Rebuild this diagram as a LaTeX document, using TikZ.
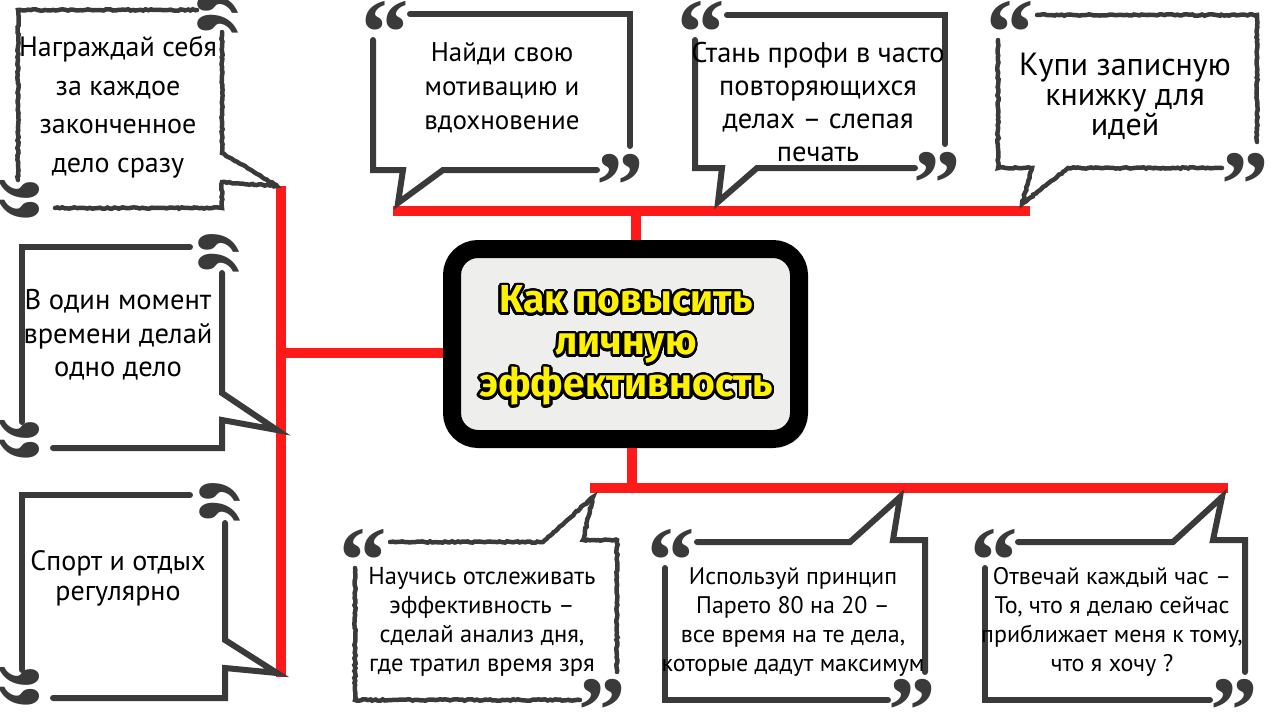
\documentclass[tikz,border=0pt]{standalone}
\usepackage{fontspec}
\setmainfont{PT Sans}
\newfontfamily\quotefont{Liberation Serif}
\newfontfamily\titlefont{Fira Sans}
\usepackage{contour}
\contourlength{2.4pt}
\contournumber{32}
\usetikzlibrary{decorations.pathmorphing,shadows}
\definecolor{bus}{HTML}{FF1A1A}
\definecolor{ink}{HTML}{3A3A3A}
\definecolor{boxfill}{HTML}{EEEEEC}
\definecolor{titley}{HTML}{FFF200}
\newcommand{\ttlline}[1]{\contour{black}{\textcolor{titley}{#1}}}
\newcommand{\sidemark}[1]{\scalebox{1}[1.5]{#1}}
\begin{document}
\begin{tikzpicture}[x=1pt,y=-1pt,
  bubble/.style={draw=ink, line width=6, line join=miter, line cap=round},
  grunge/.style={draw=ink, line width=4.5, line cap=round, decorate,
     decoration={random steps,segment length=2.5pt,amplitude=0.7pt}},
  busline/.style={draw=bus, line width=10},
  qmark/.style={font=\quotefont\bfseries\fontsize{95}{95}\selectfont, text=ink, inner sep=0},
  rmark/.style={font=\quotefont\bfseries\fontsize{90}{90}\selectfont, text=ink, inner sep=0, rotate=90, anchor=north},
  lbl/.style={align=center, inner sep=0, text=black},
  ttl/.style={align=center, inner sep=0, font=\titlefont\bfseries\fontsize{39}{42}\selectfont}]
\useasboundingbox (0,0) rectangle (1280,720);

% ---------- central node ----------
\node[draw=black, line width=18, fill=boxfill, rounded corners=26,
      minimum width=347, minimum height=190,
      drop shadow={shadow xshift=7pt, shadow yshift=-7pt, opacity=0.35}]
  (center) at (625.5,344) {};
\node[ttl] (title) at (626,347)
  {\ttlline{Как повысить}\\ \ttlline{личную}\\ \ttlline{эффективность}};

% ---------- buses ----------
\coordinate (tL) at (393,211); \coordinate (tR) at (1030,211); \coordinate (tJ) at (636,211);
\coordinate (bL) at (590,488); \coordinate (bR) at (1228,488); \coordinate (bJ) at (632,488);
\coordinate (lT) at (281,186); \coordinate (lB) at (281,677); \coordinate (lJ) at (276,353);
\draw[busline] (tL) -- (tR);
\draw[busline] (tJ |- center.north) -- (tJ);
\draw[busline] (bL) -- (bR);
\draw[busline] (bJ |- center.south) -- (bJ);
\draw[busline] (lT) -- (lB);
\draw[busline] (lJ) -- (center.west |- lJ);

% ---------- top bubbles ----------
% T1
\draw[bubble] (373,40) -- (373,170) -- (403,170) -- (398,203) -- (443,170) -- (597,170);
\draw[bubble] (410,14) -- (630,14) -- (630,146);
\node[qmark, anchor=north] (t1q1) at (385,1) {“};
\node[qmark, anchor=north] (t1q2) at (620,154) {”};
\node[lbl, font=\fontsize{27}{34}\selectfont] (t1) at (502,88)
  {Найди свою\\ мотивацию и\\ вдохновение};
% T2
\draw[bubble] (695,40) -- (695,168) -- (722,168) -- (718,202) -- (757,168) -- (915,168);
\draw[bubble] (727,15) -- (945,15) -- (945,144);
\node[qmark, anchor=north] (t2q1) at (701,1) {“};
\node[qmark, anchor=north] (t2q2) at (937,152) {”};
\node[lbl, font=\fontsize{28.5}{33}\selectfont] (t2) at (818,102)
  {Стань профи в часто\\ повторяющихся\\ делах – слепая\\ печать};
% T3
\draw[grunge] (998,40) -- (998,168) -- (1032,168) -- (1022,204) -- (1068,168) -- (1222,168);
\draw[grunge] (1037,15) -- (1257,15) -- (1257,142);
\node[qmark, anchor=north] (t3q1) at (1010,1) {“};
\node[qmark, anchor=north] (t3q2) at (1245,153) {”};
\node[lbl, font=\fontsize{32}{30}\selectfont] (t3) at (1125,96)
  {Купи записную\\ книжку для\\ идей};

% ---------- left bubbles ----------
% L1
\draw[grunge] (18,180) -- (18,10) -- (197,10);
\draw[grunge] (222,32) -- (222,153) -- (277,186) -- (222,182) -- (222,208) -- (55,208);
\node[rmark] (l1q1) at (198,14) {\sidemark{”}};
\node[rmark] (l1q2) at (-1,200) {\sidemark{“}};
\node[lbl, font=\fontsize{28}{38.5}\selectfont] (l1) at (118,107)
  {Награждай себя\\ за каждое\\ законченное\\ дело сразу};
% L2
\draw[bubble] (22,422) -- (22,247) -- (190,247);
\draw[bubble] (222,273) -- (222,393) -- (277,430) -- (222,420) -- (222,448) -- (53,448);
\node[rmark] (l2q1) at (199,253) {\sidemark{”}};
\node[rmark] (l2q2) at (-1,440) {\sidemark{“}};
\node[lbl, font=\fontsize{28.5}{33.5}\selectfont] (l2) at (118,335)
  {В один момент\\ времени делай\\ одно дело};
% L3
\draw[bubble] (22,670) -- (22,495) -- (190,495);
\draw[bubble] (225,523) -- (225,640) -- (277,673) -- (225,668) -- (225,698) -- (53,698);
\node[rmark] (l3q1) at (200,502) {\sidemark{”}};
\node[rmark] (l3q2) at (-1,687) {\sidemark{“}};
\node[lbl, font=\fontsize{28}{30}\selectfont] (l3) at (118,578)
  {Спорт и отдых\\ регулярно};

% ---------- bottom bubbles ----------
% B1
\draw[grunge] (390,542) -- (543,542) -- (593,497) -- (583,540) -- (617,540) -- (617,672);
\draw[grunge] (355,568) -- (355,700) -- (580,700);
\node[qmark, anchor=north] (b1q1) at (363,529) {“};
\node[qmark, anchor=north] (b1q2) at (602,679) {”};
\node[lbl, font=\fontsize{24.5}{29}\selectfont] (b1) at (482,622)
  {Научись отслеживать\\ эффективность –\\ сделай анализ дня,\\ где тратил время зря};
% B2
\draw[bubble] (697,542) -- (850,542) -- (900,497) -- (893,540) -- (925,540) -- (925,672);
\draw[bubble] (665,568) -- (665,700) -- (888,700);
\node[qmark, anchor=north] (b2q1) at (671,529) {“};
\node[qmark, anchor=north] (b2q2) at (912,679) {”};
\node[lbl, font=\fontsize{24}{29}\selectfont] (b2) at (793,622)
  {Используй принцип\\ Парето 80 на 20 –\\ все время на те дела,\\ которые дадут максимум};
% B3
\draw[bubble] (1018,542) -- (1173,542) -- (1222,497) -- (1213,540) -- (1245,540) -- (1245,672);
\draw[bubble] (985,568) -- (985,700) -- (1210,700);
\node[qmark, anchor=north] (b3q1) at (994,529) {“};
\node[qmark, anchor=north] (b3q2) at (1234,679) {”};
\node[lbl, font=\fontsize{24}{29}\selectfont] (b3) at (1112,622)
  {Отвечай каждый час –\\ То, что я делаю сейчас\\ приближает меня к тому,\\ что я хочу ?};
\end{tikzpicture}
\end{document}
